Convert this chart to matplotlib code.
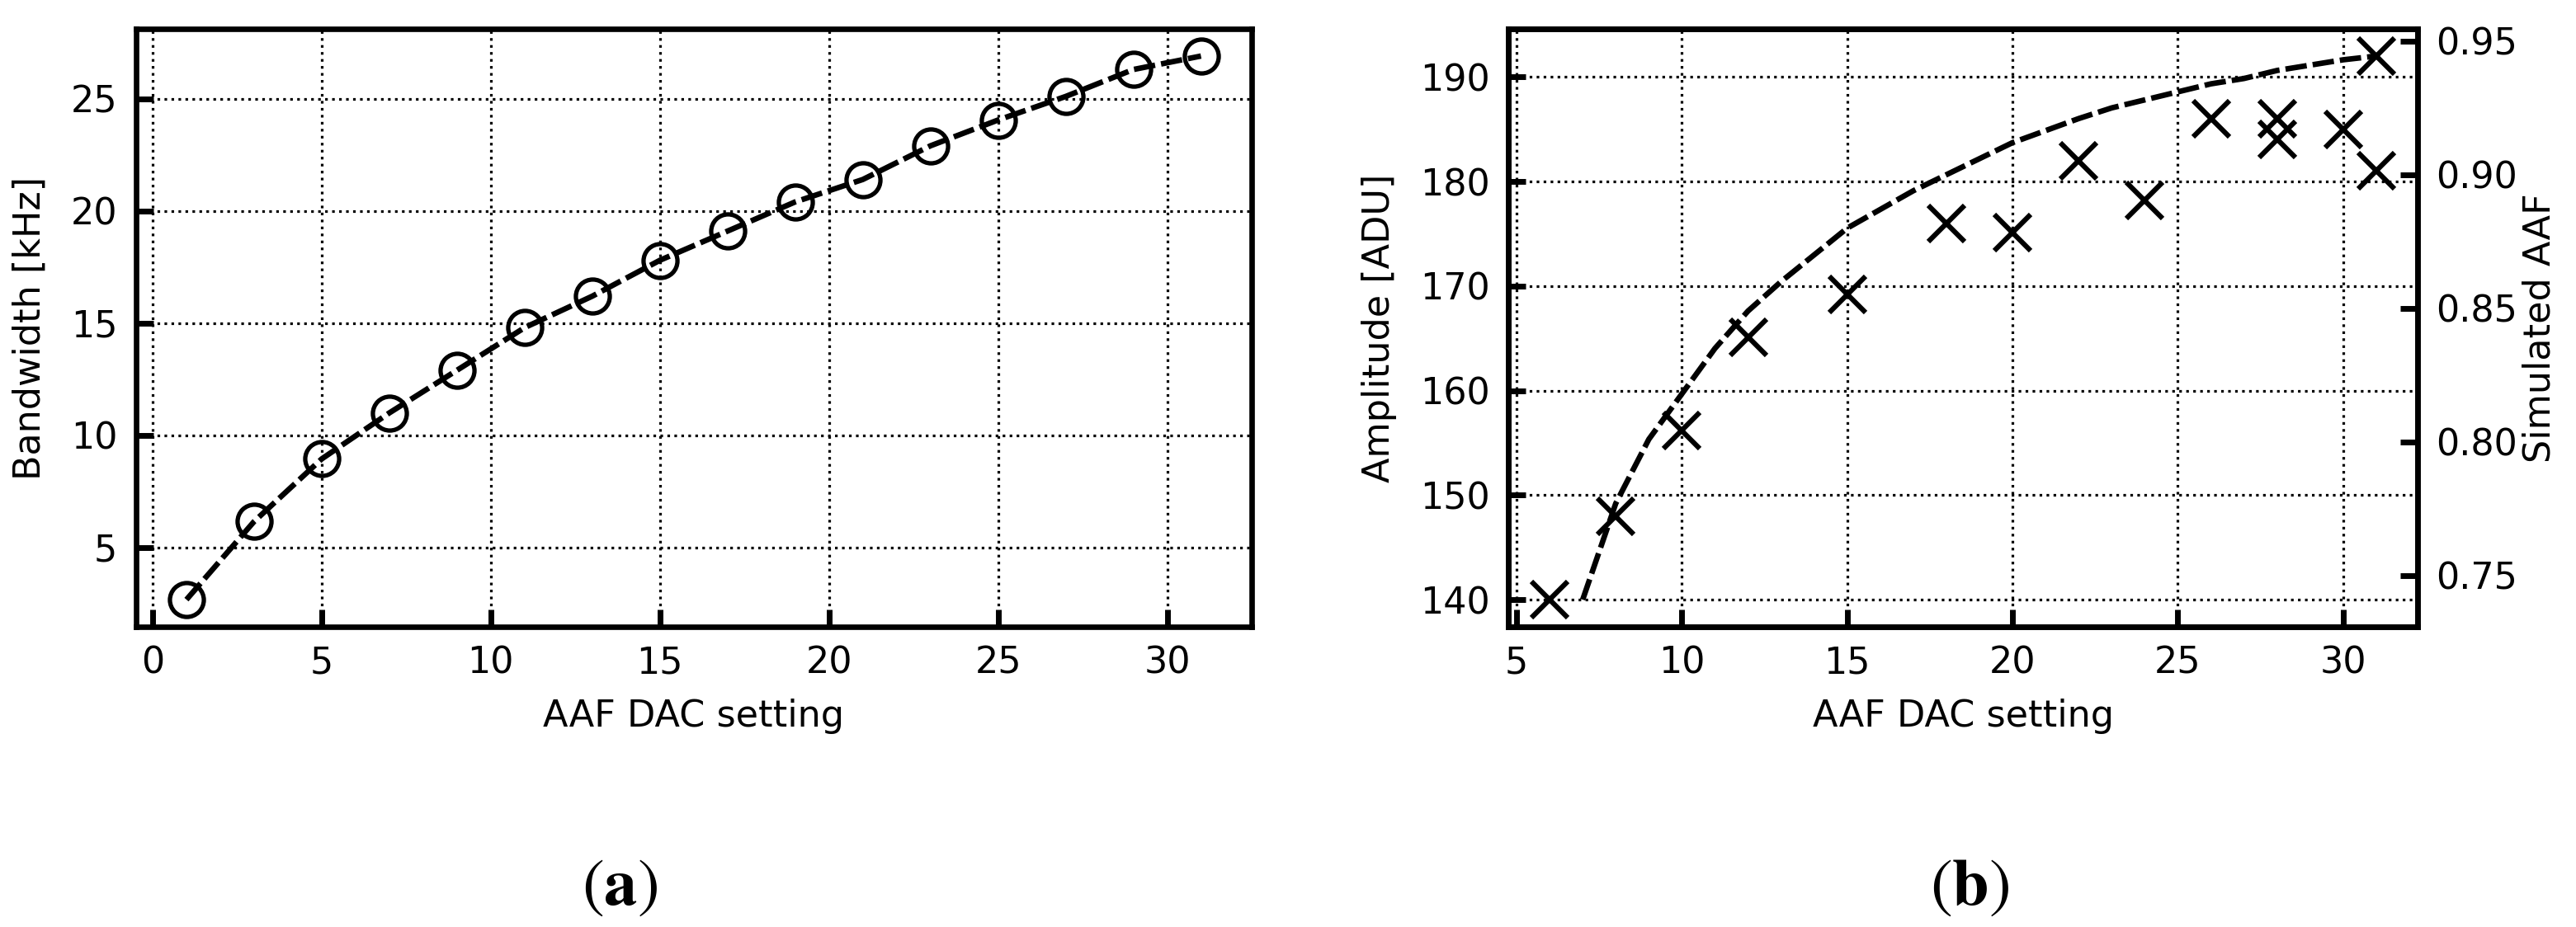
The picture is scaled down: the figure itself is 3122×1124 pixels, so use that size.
import matplotlib
matplotlib.use("Agg")
import matplotlib.pyplot as plt

# ---- data (a) ----
dac_a = [1, 3, 5, 7, 9, 11, 13, 15, 17, 19, 21, 23, 25, 27, 29, 31]
bandwidth_khz = [2.68, 6.16, 8.95, 11.0, 12.9, 14.8, 16.2, 17.8, 19.1, 20.4,
                 21.4, 22.9, 24.05, 25.1, 26.3, 26.9]

# ---- data (b) ----
dac_b = [6, 8, 10, 12, 15, 18, 20, 22, 24, 26, 28, 28, 30, 31, 31]
amplitude_adu = [140.0, 148.0, 156.2, 165.1, 169.2, 176.0, 175.1, 182.0,
                 178.2, 186.0, 186.0, 184.0, 185.0, 181.0, 192.0]

dac_sim = [7, 8, 9, 10, 11, 12, 13, 14, 15, 16, 17, 18, 19, 20, 21, 22, 23,
           24, 25, 26, 27, 28, 29, 30, 31]
sim_aaf = [0.741, 0.777, 0.801, 0.818, 0.835, 0.849, 0.860, 0.870, 0.880,
           0.887, 0.894, 0.900, 0.906, 0.912, 0.9165, 0.921, 0.925, 0.928,
           0.931, 0.934, 0.936, 0.939, 0.941, 0.943, 0.9444]

xticks_a = [0, 5, 10, 15, 20, 25, 30]
yticks_a = [5, 10, 15, 20, 25]
xticks_b = [5, 10, 15, 20, 25, 30]
yticks_b = [140, 150, 160, 170, 180, 190]
yticks_b2 = [0.75, 0.80, 0.85, 0.90, 0.95]

W, H, DPI = 3122, 1124, 200
plt.rcParams['font.family'] = ['DejaVu Sans']
plt.rcParams['font.size'] = 16

fig = plt.figure(figsize=(W / DPI, H / DPI), dpi=DPI)

def px_axes(l, r, t, b):
    return fig.add_axes([l / W, 1 - b / H, (r - l) / W, (b - t) / H])

SPINE_LW = 2.4
TICK_KW = dict(direction='in', length=7.4, width=2.5, pad=8, labelsize=16)
LINE_LW = 2.4
DASHES = (3.9, 1.1)

def style(ax):
    for s in ax.spines.values():
        s.set_linewidth(SPINE_LW)
    ax.grid(True, linestyle=':', color='k', linewidth=1.15)
    ax.set_axisbelow(True)

# ---- panel (a) ----
ax1 = px_axes(164.5, 1517, 35, 760)
style(ax1)
ax1.plot(dac_a, bandwidth_khz, linestyle='--', dashes=DASHES, color='k',
         lw=LINE_LW, marker='o', ms=14.8, mew=1.9, mfc='none', mec='k')
ax1.set_xticks(xticks_a)
ax1.set_yticks(yticks_a)
ax1.tick_params(axis='both', which='major', **TICK_KW)
ax1.set_xlabel('AAF DAC setting', labelpad=8)
ax1.set_ylabel('Bandwidth [kHz]', labelpad=10)

# ---- panel (b) ----
ax2 = px_axes(1828, 2930, 35, 760)
style(ax2)
ax2.plot(dac_b, amplitude_adu, linestyle='none', marker='x', ms=15.5,
         mew=2.2, color='k')
ax2.set_xticks(xticks_b)
ax2.set_yticks(yticks_b)
ax2.tick_params(axis='both', which='major', **TICK_KW)
ax2.set_xlabel('AAF DAC setting', labelpad=8)
ax2.set_ylabel('Amplitude [ADU]', labelpad=10)

ax3 = ax2.twinx()
ax3.plot(dac_sim, sim_aaf, linestyle='--', dashes=DASHES, color='k', lw=LINE_LW)
ax3.set_yticks(yticks_b2)
ax3.set_yticklabels([f'{v:.2f}' for v in yticks_b2])
ax3.tick_params(axis='y', which='major', **TICK_KW)
for s in ax3.spines.values():
    s.set_linewidth(SPINE_LW)
ax3.set_ylabel('Simulated AAF', labelpad=2)

# ---- captions ----
cap_kw = dict(ha='center', va='center', fontsize=29, math_fontfamily='stix')
fig.text(751 / W, 1 - 1075 / H, r'$(\mathbf{a})$', **cap_kw)
fig.text(2387 / W, 1 - 1075 / H, r'$(\mathbf{b})$', **cap_kw)

fig.savefig('out.png', dpi=DPI)
